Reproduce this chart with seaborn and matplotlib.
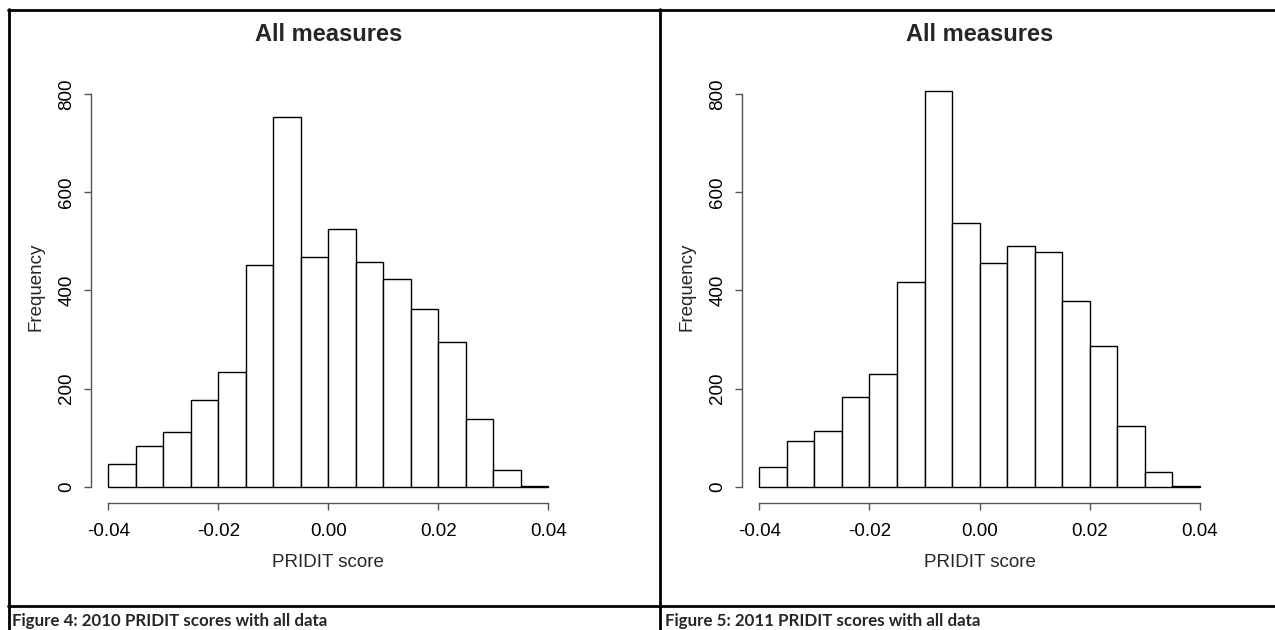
import numpy as np
import pandas as pd
import matplotlib
matplotlib.use("Agg")
import matplotlib.pyplot as plt
from matplotlib.lines import Line2D
import seaborn as sns

# ---- data ----
bin_edges = [-0.040, -0.035, -0.030, -0.025, -0.020, -0.015, -0.010, -0.005,
             0.000, 0.005, 0.010, 0.015, 0.020, 0.025, 0.030, 0.035, 0.040]
counts_2010 = [46, 82, 112, 176, 234, 452, 754, 468, 525, 459, 423, 363, 294, 139, 35, 2]
counts_2011 = [40, 93, 113, 183, 230, 417, 806, 538, 456, 490, 478, 378, 286, 123, 29, 2]
x_ticks = [-0.04, -0.02, 0.00, 0.02, 0.04]
x_ticklabels = ["-0.04", "-0.02", "0.00", "0.02", "0.04"]
y_ticks = [0, 200, 400, 600, 800]
y_ticklabels = ["0", "200", "400", "600", "800"]
panel_title = "All measures"
x_label = "PRIDIT score"
y_label = "Frequency"
captions = ["Figure 4: 2010 PRIDIT scores with all data",
            "Figure 5: 2011 PRIDIT scores with all data"]

sns.set_style("white")
plt.rcParams['font.family'] = ['Liberation Sans', 'DejaVu Sans']

W, H = 1275, 630
fig = plt.figure(figsize=(W / 100, H / 100), dpi=100)
fig.patch.set_facecolor("white")


def fx(px):
    return px / W


def fy(py):
    return 1 - py / H


def make_axes(left_px, right_px, top_px, bottom_px):
    return fig.add_axes([fx(left_px), fy(bottom_px),
                         fx(right_px) - fx(left_px), fy(top_px) - fy(bottom_px)])


centers = [(a + b) / 2 for a, b in zip(bin_edges[:-1], bin_edges[1:])]
panels = [(counts_2010, 90.7, 565.9), (counts_2011, 741.7, 1217.6)]
ylo, yhi = -33.8, 850
ax_top, ax_bottom = 69.7, 503.3
title_y_px = 34.0

for counts, left_px, right_px in panels:
    ax = make_axes(left_px, right_px, ax_top, ax_bottom)
    df = pd.DataFrame({"score": centers, "count": counts})
    sns.histplot(data=df, x="score", weights="count", bins=bin_edges, ax=ax,
                 stat="count", color="white", edgecolor="black", linewidth=1.0,
                 alpha=1.0)
    ax.set_xlim(-0.0432, 0.0432)
    ax.set_ylim(ylo, yhi)
    ax.set_facecolor("white")
    for s in ["top", "right"]:
        ax.spines[s].set_visible(False)
    ax.spines["left"].set_bounds(0, 800)
    ax.spines["bottom"].set_bounds(-0.04, 0.04)
    for s in ["left", "bottom"]:
        ax.spines[s].set_color("#555555")
        ax.spines[s].set_linewidth(1.0)
    ax.set_xticks(x_ticks)
    ax.set_xticklabels(x_ticklabels)
    ax.set_yticks(y_ticks)
    ax.set_yticklabels(y_ticklabels, rotation=90, va="center")
    ax.tick_params(axis="both", direction="out", length=5.2, width=1.0,
                   color="#555555", labelsize=13.5, labelcolor="black",
                   bottom=True, left=True)
    ax.tick_params(axis="x", pad=9)
    ax.tick_params(axis="y", pad=6)
    ax.set_xlabel(x_label, fontsize=13.5, labelpad=10)
    ax.set_ylabel(y_label, fontsize=13.5, labelpad=10)
    yfrac = (ax_bottom - title_y_px) / (ax_bottom - ax_top)
    ax.set_title(panel_title, fontsize=17, fontweight="bold", y=yfrac, pad=0,
                 va="center")
    ax.grid(False)

# table borders
lw = 2.0
fig.add_artist(Line2D([fx(8), fx(W)], [fy(10), fy(10)], color="black", lw=lw))
fig.add_artist(Line2D([fx(8.5), fx(8.5)], [fy(9), fy(H)], color="black", lw=lw))
fig.add_artist(Line2D([fx(660), fx(660)], [fy(9), fy(H)], color="black", lw=lw))
fig.add_artist(Line2D([fx(8), fx(W)], [fy(606), fy(606)], color="black", lw=lw))

fig.text(fx(12), fy(621), captions[0], fontsize=12.2, fontweight="bold",
         family=["Lato", "DejaVu Sans"], va="center", ha="left")
fig.text(fx(665), fy(621), captions[1], fontsize=12.2, fontweight="bold",
         family=["Lato", "DejaVu Sans"], va="center", ha="left")

fig.savefig("out.png", dpi=100, facecolor="white")
